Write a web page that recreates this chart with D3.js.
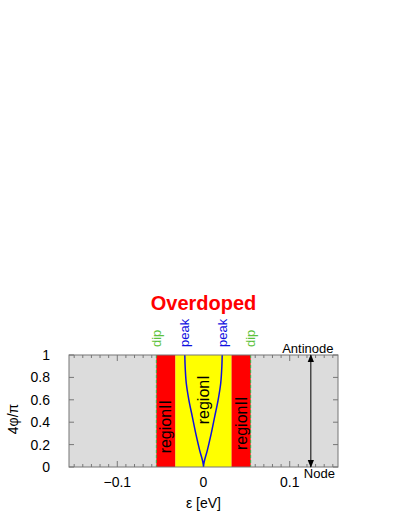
<!DOCTYPE html>
<html>
<head>
<meta charset="utf-8">
<script src="https://cdn.jsdelivr.net/npm/d3@7"></script>
<style>
body { margin: 0; background: #fff; }
text { font-family: "Liberation Sans", Arial, sans-serif; }
</style>
</head>
<body>
<script>
// values
var xTicks = [-0.1, 0, 0.1]
var yTicks = [0, 0.2, 0.4, 0.6, 0.8, 1]
var regionNames = ["regionII", "regionI", "regionII"]
var regionFrom = [-0.0547, -0.0326, 0.0326]
var regionTo = [-0.0326, 0.0326, 0.0547]
var dipEps = [-0.0547, 0.0547]
var peakEps = [-0.0217, 0.0217]
// gap curve, eps vs 4phi/pi (mirrored for the negative side)
var curvePhi = [0, 0.15, 0.3, 0.45, 0.6, 0.75, 0.9, 1]
var curveEps = [0, 0.0045, 0.009, 0.013, 0.017, 0.02, 0.0213, 0.0217]
var arrowEps = 0.1245

var width = 407, height = 527
var pLeft = 69, pRight = 338, pTop = 355, pBottom = 467

var x = d3.scaleLinear().domain([-0.156, 0.156]).range([pLeft, pRight])
var y = d3.scaleLinear().domain([0, 1]).range([pBottom, pTop])

var svg = d3.select("body").append("svg")
    .attr("width", width)
    .attr("height", height)

svg.append("defs").append("marker")
    .attr("id", "head")
    .attr("viewBox", "0 0 10 10")
    .attr("refX", 9).attr("refY", 5)
    .attr("markerWidth", 8).attr("markerHeight", 8)
    .attr("markerUnits", "userSpaceOnUse")
    .attr("orient", "auto-start-reverse")
    .append("path")
    .attr("d", "M0,1 L10,5 L0,9 Z")
    .attr("fill", "#000")

// background
svg.append("rect")
    .attr("x", pLeft).attr("y", pTop)
    .attr("width", pRight - pLeft).attr("height", pBottom - pTop)
    .attr("fill", "#dcdcdc")

// ticks (inside, all four sides)
var minor = d3.range(-15, 16).map(function (d) { return d / 100 })
var tg = svg.append("g").attr("stroke", "#777").attr("stroke-width", 1)
minor.forEach(function (t) {
    var len = xTicks.some(function (m) { return Math.abs(m - t) < 1e-9 }) ? 6 : 3
    tg.append("line").attr("x1", x(t)).attr("x2", x(t)).attr("y1", pBottom).attr("y2", pBottom - len)
    tg.append("line").attr("x1", x(t)).attr("x2", x(t)).attr("y1", pTop).attr("y2", pTop + len)
})
yTicks.forEach(function (t) {
    tg.append("line").attr("x1", pLeft).attr("x2", pLeft + 5).attr("y1", y(t)).attr("y2", y(t))
    tg.append("line").attr("x1", pRight).attr("x2", pRight - 5).attr("y1", y(t)).attr("y2", y(t))
})

// regions
var color = d3.scaleOrdinal().domain(["regionI", "regionII"]).range(["#ffff00", "#ff0000"])
svg.selectAll("rect.region")
    .data(regionNames)
    .enter().append("rect")
    .attr("class", "region")
    .attr("x", function (d, i) { return x(regionFrom[i]) })
    .attr("width", function (d, i) { return x(regionTo[i]) - x(regionFrom[i]) })
    .attr("y", pTop).attr("height", pBottom - pTop)
    .attr("fill", function (d) { return color(d) })

// dip lines
svg.selectAll("line.dip")
    .data(dipEps)
    .enter().append("line")
    .attr("x1", function (d) { return x(d) }).attr("x2", function (d) { return x(d) })
    .attr("y1", pTop).attr("y2", pBottom)
    .attr("stroke", "#3cb043").attr("stroke-width", 1)
    .attr("stroke-dasharray", "3,2")

// gap curve
var pts = curvePhi.map(function (p, i) { return [curveEps[i], p] })
var line = d3.line()
    .x(function (d) { return x(d[0]) })
    .y(function (d) { return y(d[1]) })
    .curve(d3.curveMonotoneY)
var both = pts.slice().reverse().map(function (d) { return [-d[0], d[1]] }).concat(pts.slice(1))
svg.append("path")
    .attr("d", line(both))
    .attr("fill", "none")
    .attr("stroke", "#1010e0")
    .attr("stroke-width", 1.5)

// frame
svg.append("rect")
    .attr("x", pLeft).attr("y", pTop)
    .attr("width", pRight - pLeft).attr("height", pBottom - pTop)
    .attr("fill", "none").attr("stroke", "#777").attr("stroke-width", 1)

// region labels
var labelPhi = [0.36, 0.6, 0.39]
regionNames.forEach(function (d, i) {
    var cx = x((regionFrom[i] + regionTo[i]) / 2)
    svg.append("text")
        .attr("transform", "translate(" + cx + "," + y(labelPhi[i]) + ") rotate(-90)")
        .attr("text-anchor", "middle")
        .attr("dy", "0.35em")
        .attr("font-size", 16)
        .attr("fill", "#000")
        .text(d)
})

// dip / peak labels above frame
function vlabel(eps, txt, col) {
    svg.append("text")
        .attr("transform", "translate(" + x(eps) + "," + (pTop - 8) + ") rotate(-90)")
        .attr("text-anchor", "start")
        .attr("dy", "0.35em")
        .attr("font-size", 13)
        .attr("fill", col)
        .text(txt)
}
dipEps.forEach(function (d) { vlabel(d, "dip", "#5cc23c") })
peakEps.forEach(function (d) { vlabel(d, "peak", "#1010e0") })

// node / antinode arrow
svg.append("line")
    .attr("x1", x(arrowEps)).attr("x2", x(arrowEps))
    .attr("y1", y(0)).attr("y2", y(1))
    .attr("stroke", "#000").attr("stroke-width", 1)
    .attr("marker-start", "url(#head)")
    .attr("marker-end", "url(#head)")
svg.append("text")
    .attr("x", x(arrowEps) - 3).attr("y", pTop - 2)
    .attr("text-anchor", "middle").attr("font-size", 13)
    .text("Antinode")
svg.append("text")
    .attr("x", x(arrowEps) - 7).attr("y", pBottom + 11)
    .attr("text-anchor", "start").attr("font-size", 13)
    .text("Node")

// tick labels
svg.selectAll("text.xt")
    .data(xTicks)
    .enter().append("text")
    .attr("class", "xt")
    .attr("x", function (d) { return x(d) })
    .attr("y", pBottom + 20)
    .attr("text-anchor", "middle")
    .attr("font-size", 14)
    .text(function (d) { return d === 0 ? "0" : d3.format(".1f")(d).replace("-", "\u2212") })

svg.selectAll("text.yt")
    .data(yTicks)
    .enter().append("text")
    .attr("class", "yt")
    .attr("x", pLeft - 19)
    .attr("y", function (d) { return y(d) })
    .attr("dy", "0.35em")
    .attr("text-anchor", "end")
    .attr("font-size", 14)
    .text(function (d) { return d === 0 || d === 1 ? String(d) : d3.format(".1f")(d) })

// axis titles
svg.append("text")
    .attr("x", x(0)).attr("y", 508)
    .attr("text-anchor", "middle").attr("font-size", 14)
    .text("\u03b5 [eV]")
svg.append("text")
    .attr("transform", "translate(18,419) rotate(-90)")
    .attr("text-anchor", "middle").attr("font-size", 14)
    .text("4\u03c6/\u03c0")

// title
svg.append("text")
    .attr("x", x(0)).attr("y", 310)
    .attr("text-anchor", "middle")
    .attr("font-size", 20).attr("font-weight", "bold")
    .attr("fill", "#ff0000")
    .text("Overdoped")
</script>
</body>
</html>
